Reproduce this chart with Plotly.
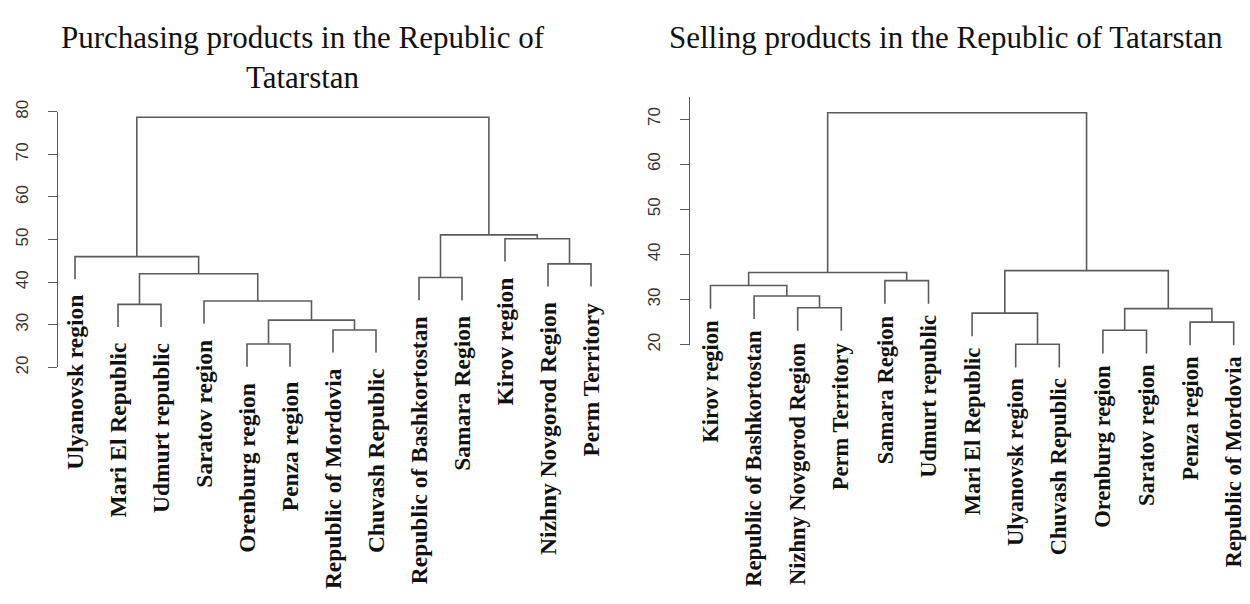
import plotly.graph_objects as go

# ---------------- data ----------------
left_title = "Purchasing products in the Republic of<br>Tatarstan"
left_labels = ["Ulyanovsk region", "Mari El Republic", "Udmurt republic", "Saratov region",
               "Orenburg region", "Penza region", "Republic of Mordovia", "Chuvash Republic",
               "Republic of Bashkortostan", "Samara Region", "Kirov region",
               "Nizhny Novgorod Region", "Perm Territory"]
# R-style merge table: negative = leaf (1-based, in plotted order), positive = earlier merge
left_merge = [(-5, -6), (-7, -8), (1, 2), (-2, -3), (-4, 3), (4, 5), (-1, 6),
              (-9, -10), (-12, -13), (-11, 9), (8, 10), (7, 11)]
left_height = [25.5, 28.8, 31.1, 34.8, 35.6, 42.0, 46.0, 41.1, 44.3, 50.2, 51.1, 78.7]
left_ticks = [20, 30, 40, 50, 60, 70, 80]

right_title = "Selling products in the Republic of Tatarstan"
right_labels = ["Kirov region", "Republic of Bashkortostan", "Nizhny Novgorod Region",
                "Perm Territory", "Samara Region", "Udmurt republic", "Mari El Republic",
                "Ulyanovsk region", "Chuvash Republic", "Orenburg region", "Saratov region",
                "Penza region", "Republic of Mordovia"]
right_merge = [(-8, -9), (-10, -11), (-12, -13), (-7, 1), (2, 3), (-3, -4), (-2, 6),
               (-1, 7), (-5, -6), (8, 9), (4, 5), (10, 11)]
right_height = [20.1, 23.2, 25.0, 27.0, 28.0, 28.2, 30.8, 33.1, 34.2, 36.0, 36.4, 71.4]
right_ticks = [20, 30, 40, 50, 60, 70]

W, H = 1250, 604
LINE_COLOR = "#5b5b5b"


def dendro(merge, height, hang_frac=0.1):
    hang = hang_frac * (max(height) - min(height))
    xs_node, xs, ys, leaf_end = {}, [], [], {}
    for k, ((a, b), h) in enumerate(zip(merge, height), start=1):
        pts = []
        for c in (a, b):
            if c < 0:
                cx, cb = -c, h - hang
                leaf_end[-c] = cb
            else:
                cx, cb = xs_node[c], height[c - 1]
            pts.append((cx, cb))
        (xa, ya), (xb, yb) = pts
        xs += [xa, xa, xb, xb, None]
        ys += [ya, h, h, yb, None]
        xs_node[k] = (xa + xb) / 2
    return xs, ys, leaf_end


def frac_y(px):
    return 1 - px / H


fig = go.Figure()

panels = [
    dict(labels=left_labels, merge=left_merge, height=left_height, ticks=left_ticks,
         title=left_title, xa="x", ya="y", ta="y3", leaf0=75, step=43.0,
         y20=367, ppu=4.4, axis_px=57, xdom=(35, 615), ttop=80, title_x=303,
         lab_size=23.5, lab_gap=15),
    dict(labels=right_labels, merge=right_merge, height=right_height, ticks=right_ticks,
         title=right_title, xa="x2", ya="y2", ta="y4", leaf0=710.5, step=43.6,
         y20=343.5, ppu=4.66, axis_px=689, xdom=(665, 1249), ttop=74.8, title_x=946,
         lab_size=22.5, lab_gap=10),
]

layout_axes = {}
for i, p in enumerate(panels):
    xs, ys, leaf_end = dendro(p["merge"], p["height"])
    fig.add_trace(go.Scatter(x=xs, y=ys, mode="lines", xaxis=p["xa"], yaxis=p["ya"],
                             line=dict(color=LINE_COLOR, width=1.6), hoverinfo="skip",
                             showlegend=False))
    # empty trace to host the visible tick axis
    fig.add_trace(go.Scatter(x=[None], y=[None], xaxis=p["xa"], yaxis=p["ta"],
                             showlegend=False, hoverinfo="skip"))

    top_px, bot_px = 60, 600
    v_of = lambda px, p=p: 20 + (p["y20"] - px) / p["ppu"]
    x_of = lambda px, p=p: 1 + (px - p["leaf0"]) / p["step"]
    xname = "xaxis" if p["xa"] == "x" else "xaxis2"
    yname = "yaxis" if p["ya"] == "y" else "yaxis2"
    tname = "yaxis3" if p["ta"] == "y3" else "yaxis4"
    layout_axes[xname] = dict(domain=[p["xdom"][0] / W, p["xdom"][1] / W],
                              range=[x_of(p["xdom"][0]), x_of(p["xdom"][1])],
                              visible=False, fixedrange=True)
    layout_axes[yname] = dict(domain=[frac_y(bot_px), frac_y(top_px)],
                              range=[v_of(bot_px), v_of(top_px)],
                              visible=False, fixedrange=True,
                              anchor=p["xa"])
    t_top_px = p["y20"] - (p["ttop"] - 20) * p["ppu"]
    layout_axes[tname] = dict(domain=[frac_y(p["y20"]), frac_y(t_top_px)],
                              range=[20, p["ttop"]], anchor="free",
                              position=p["axis_px"] / W,
                              tickvals=p["ticks"], ticktext=[str(t) for t in p["ticks"]],
                              showline=True, linecolor=LINE_COLOR, linewidth=1.3,
                              ticks="outside", ticklen=9, tickwidth=1.3,
                              tickcolor=LINE_COLOR, tickangle=-90,
                              ticklabelstandoff=13,
                              tickfont=dict(family="Liberation Sans", size=17,
                                            color="#333333"),
                              showgrid=False, zeroline=False, fixedrange=True)

    for j, lab in enumerate(p["labels"], start=1):
        fig.add_annotation(x=j, y=leaf_end[j], xref=p["xa"], yref=p["ya"],
                           text="<b>" + lab + "</b>", showarrow=False,
                           textangle=-90, xanchor="center", yanchor="top",
                           yshift=-p["lab_gap"], borderpad=0,
                           font=dict(family="Liberation Serif", size=p["lab_size"],
                                     color="#111111"))

    fig.add_annotation(x=p["title_x"] / W, y=1 - 6 / H, xref="paper", yref="paper",
                       text=p["title"], showarrow=False, xanchor="center", yanchor="top",
                       font=dict(family="Liberation Serif", size=31, color="#111111"))

fig.update_layout(width=W, height=H, autosize=False,
                  margin=dict(l=0, r=0, t=0, b=0),
                  paper_bgcolor="white", plot_bgcolor="rgba(0,0,0,0)",
                  showlegend=False, **layout_axes)

fig.write_html("out.html", config={"displayModeBar": False},
               post_script="document.body.style.margin='0px';")
